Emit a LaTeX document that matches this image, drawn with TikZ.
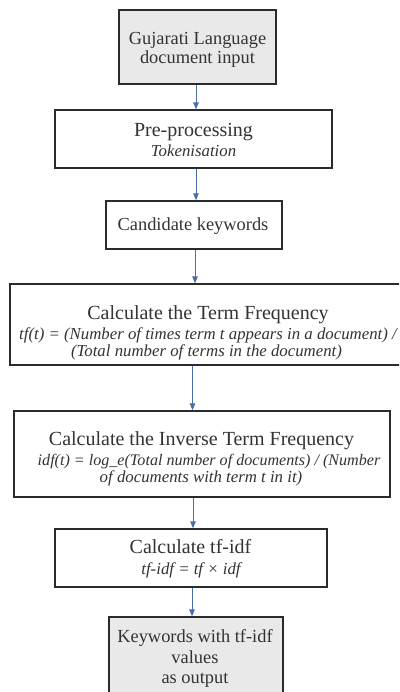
\documentclass[tikz,border=0pt]{standalone}
\usepackage{fontspec}
\setmainfont{Liberation Serif}
\usetikzlibrary{arrows.meta}
\definecolor{boxline}{HTML}{2B2B2B}
\definecolor{boxfill}{HTML}{E9E9E9}
\definecolor{arrblue}{HTML}{4A6FA8}
\definecolor{txt}{HTML}{333333}
\tikzset{
  box/.style={draw=boxline, line width=1.3pt, fill=white, rectangle, inner sep=0pt},
  graybox/.style={box, fill=boxfill},
  arr/.style={draw=arrblue, line width=1pt, -{Triangle[length=7pt,width=5.5pt]}},
  mainA/.style={anchor=base, inner sep=0pt, text=txt, font=\fontsize{20}{22}\selectfont},
  mainB/.style={anchor=base, inner sep=0pt, text=txt, font=\fontsize{18.4}{20}\selectfont},
  ital/.style={anchor=base, inner sep=0pt, text=txt, font=\fontsize{16.8}{18}\selectfont\itshape},
  itals/.style={anchor=base, inner sep=0pt, text=txt, font=\fontsize{16.1}{18}\selectfont\itshape},
}
\begin{document}
\begin{tikzpicture}[x=1pt,y=-1pt]
\useasboundingbox (0,0) rectangle (399,692);
\clip (0,0) rectangle (399,692);
% boxes
\node[graybox, minimum width=157pt, minimum height=74pt] (b1) at (197.5,47) {};
\node[box, minimum width=277pt, minimum height=58pt] (b2) at (193.5,139) {};
\node[box, minimum width=176pt, minimum height=48pt] (b3) at (194,225) {};
\node[box, minimum width=402pt, minimum height=81pt] (b4) at (211,324.5) {};
\node[box, minimum width=376pt, minimum height=86pt] (b5) at (202,454) {};
\node[box, minimum width=272pt, minimum height=58pt] (b6) at (191,558) {};
\node[graybox, minimum width=174pt, minimum height=88pt] (b7) at (196,661) {};
% texts
\node[mainB] (t1a) at (197.5,45) {Gujarati Language};
\node[mainB] (t1b) at (197.5,64) {document input};
\node[mainA] (t2a) at (193.5,137) {Pre-processing};
\node[ital] (t2b) at (193.5,157) {Tokenisation};
\node[mainB] (t3a) at (193,231) {Candidate keywords};
\node[mainA] (t4a) at (208,319) {Calculate the Term Frequency};
\node[ital] (t4b) at (208,339) {tf(t) = (Number of times term t appears in a document) /};
\node[ital] (t4c) at (206.5,356) {(Total number of terms in the document)};
\node[mainA] (t5a) at (201.5,445) {Calculate the Inverse Term Frequency};
\node[itals] (t5b) at (209,465) {idf(t) = log\_e(Total number of documents) / (Number};
\node[ital] (t5c) at (201,482) {of documents with term t in it)};
\node[mainA] (t6a) at (190.5,553) {Calculate tf-idf};
\node[ital] (t6b) at (191,574) {tf-idf = tf × idf};
\node[mainB] (t7a) at (195,642) {Keywords with tf-idf};
\node[mainB] (t7b) at (195,663) {values};
\node[mainB] (t7c) at (195,683) {as output};
% arrow columns
\coordinate (c1) at (196,0);
\coordinate (c2) at (196,0);
\coordinate (c3) at (195,0);
\coordinate (c4) at (192.5,0);
\coordinate (c5) at (193,0);
\coordinate (c6) at (192,0);
\draw[arr] (b1.south -| c1) -- (b2.north -| c1);
\draw[arr] (b2.south -| c2) -- (b3.north -| c2);
\draw[arr] (b3.south -| c3) -- (b4.north -| c3);
\draw[arr] (b4.south -| c4) -- (b5.north -| c4);
\draw[arr] (b5.south -| c5) -- (b6.north -| c5);
\draw[arr] (b6.south -| c6) -- (b7.north -| c6);
\end{tikzpicture}
\end{document}
